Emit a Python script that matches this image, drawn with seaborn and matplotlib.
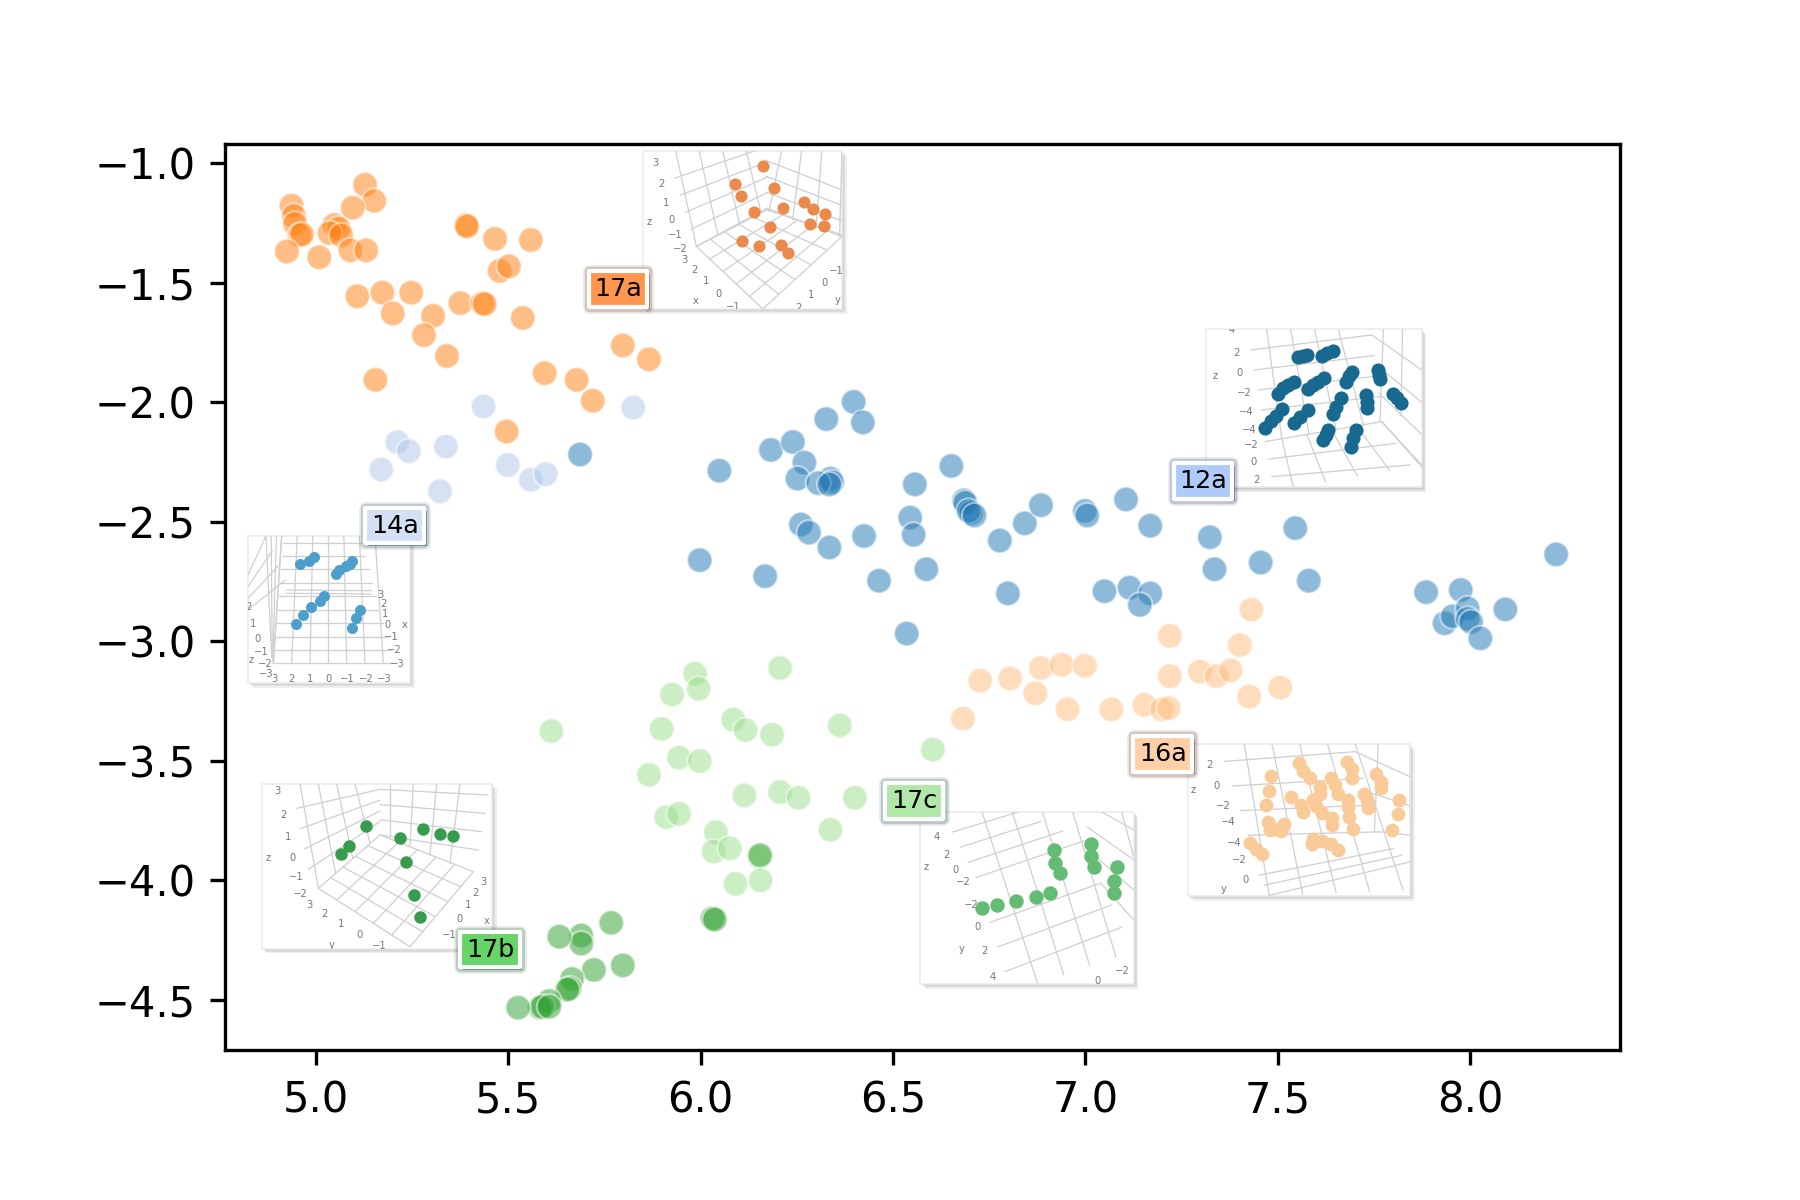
import numpy as np
import pandas as pd
import matplotlib
matplotlib.use('Agg')
import matplotlib.pyplot as plt
import matplotlib.patheffects as pe
from matplotlib.patches import Rectangle
import seaborn as sns

#%% main scatter values
x_17a = [5.128, 5.152, 5.096, 4.937, 4.943, 4.946, 4.958, 4.964, 4.925, 5.009, 5.048, 5.060, 5.036, 5.066, 5.090, 5.131,
         5.391, 5.393, 5.466, 5.559, 5.478, 5.502, 5.108, 5.173, 5.248, 5.200, 5.305, 5.281, 5.341, 5.376, 5.433, 5.439,
         5.538, 5.155, 5.595, 5.678, 5.720, 5.798, 5.866, 5.496]
y_17a = [-1.091, -1.158, -1.187, -1.178, -1.221, -1.254, -1.302, -1.298, -1.370, -1.394, -1.259, -1.274, -1.293, -1.302, -1.365, -1.365,
         -1.259, -1.265, -1.317, -1.322, -1.451, -1.432, -1.557, -1.542, -1.542, -1.629, -1.639, -1.720, -1.807, -1.586, -1.586, -1.590,
         -1.648, -1.907, -1.879, -1.907, -1.994, -1.763, -1.821, -2.123]

x_14a = [5.436, 5.825, 5.212, 5.242, 5.338, 5.170, 5.323, 5.499, 5.559, 5.598]
y_14a = [-2.018, -2.023, -2.167, -2.205, -2.186, -2.282, -2.373, -2.263, -2.325, -2.301]

x_12a = [5.687, 6.049, 6.183, 6.240, 6.270, 6.252, 6.327, 6.398, 6.422, 6.338, 6.342, 6.306, 6.335, 6.261, 6.282, 6.335, 6.425, 6.464,
         5.998, 6.168, 6.557, 6.652, 6.545, 6.554, 6.587, 6.536, 6.685, 6.688, 6.703, 6.697, 6.712, 6.778, 6.843, 6.885, 6.999, 7.005,
         6.799, 7.106, 7.169, 7.050, 7.115, 7.169, 7.142, 7.324, 7.336, 7.456, 7.546, 7.581, 7.886, 7.934, 7.955, 7.976, 7.994, 7.994,
         8.003, 8.027, 8.092, 8.224]
y_12a = [-2.219, -2.287, -2.200, -2.167, -2.253, -2.320, -2.071, -1.999, -2.085, -2.320, -2.335, -2.339, -2.344, -2.512, -2.546, -2.608, -2.560, -2.747,
         -2.661, -2.728, -2.344, -2.267, -2.483, -2.555, -2.699, -2.968, -2.411, -2.421, -2.464, -2.455, -2.474, -2.579, -2.507, -2.431, -2.455, -2.474,
         -2.800, -2.407, -2.517, -2.791, -2.776, -2.800, -2.848, -2.565, -2.699, -2.671, -2.527, -2.747, -2.795, -2.925, -2.896, -2.786, -2.863, -2.906,
         -2.920, -2.988, -2.867, -2.637]

x_16a = [7.432, 7.220, 7.402, 7.220, 7.298, 7.342, 7.378, 7.507, 7.426, 6.727, 6.805, 6.885, 6.939, 6.999, 6.870, 6.954, 7.068, 7.154, 7.199, 7.217, 6.682]
y_16a = [-2.868, -2.978, -3.016, -3.146, -3.127, -3.146, -3.122, -3.194, -3.232, -3.165, -3.156, -3.112, -3.098, -3.103, -3.218, -3.285, -3.285, -3.266, -3.285, -3.280, -3.324]

x_17c = [5.986, 5.995, 5.926, 6.207, 5.899, 6.085, 6.117, 6.186, 6.362, 5.612, 5.944, 5.998, 5.866, 6.604, 6.207, 6.255, 6.114, 6.401, 5.911, 5.944,
         6.338, 6.040, 6.034, 6.076, 6.153, 6.156, 6.091]
y_17c = [-3.136, -3.199, -3.223, -3.112, -3.367, -3.328, -3.372, -3.391, -3.352, -3.376, -3.487, -3.501, -3.559, -3.453, -3.631, -3.655, -3.645, -3.655, -3.736, -3.722,
         -3.789, -3.799, -3.880, -3.866, -3.904, -4.000, -4.015]

x_17b = [6.031, 6.037, 5.768, 5.690, 5.690, 5.633, 5.723, 5.798, 5.666, 5.660, 5.654, 5.607, 5.583, 5.589, 5.526, 5.607, 6.155]
y_17b = [-4.159, -4.164, -4.178, -4.231, -4.265, -4.236, -4.375, -4.356, -4.413, -4.452, -4.457, -4.505, -4.533, -4.529, -4.533, -4.529, -3.895]

x_ticks = [5.0, 5.5, 6.0, 6.5, 7.0, 7.5, 8.0]
y_ticks = [-1.0, -1.5, -2.0, -2.5, -3.0, -3.5, -4.0, -4.5]

series_colors = {'17a': '#ff7f0e', '14a': '#aec7e8', '12a': '#1f77b4',
                 '16a': '#ffbb78', '17c': '#98df8a', '17b': '#2ca02c'}

#%% small 3d views, values are read in each view's own picture units
pts_17a = [(1286, 78), (1217, 133), (1233, 167), (1311, 143), (1263, 216), (1334, 204), (1385, 185), (1406, 207),
           (1435, 221), (1400, 253), (1433, 258), (1303, 261), (1235, 305), (1276, 318), (1330, 316), (1346, 339)]
grid_17a = [((1075, 33), (1245, 33), (1125, 320), (1280, 215), 4), ((1072, 115), (1125, 320), (1295, 20), (1295, 205), 5),
            ((1330, 33), (1476, 33), (1300, 215), (1470, 290), 4), ((1290, 60), (1295, 205), (1476, 150), (1476, 290), 4),
            ((1125, 320), (1295, 210), (1285, 508), (1476, 285), 6), ((1125, 320), (1285, 508), (1295, 210), (1476, 290), 6)]
txt_17a = [(1027, 70, '3'), (1041, 132, '2'), (1052, 188, '1'), (1064, 240, '0'), (1074, 287, '−1'), (1085, 329, '−2'),
           (1010, 246, 'z'), (1096, 361, '3'), (1121, 392, '2'), (1149, 425, '1'), (1179, 462, '0'), (1214, 502, '−1'),
           (1122, 484, 'x'), (1462, 394, '−1'), (1433, 430, '0'), (1402, 467, '1'), (1370, 505, '2'), (1465, 481, 'y')]

pts_12a = [(445, 142), (460, 139), (472, 136), (515, 137), (530, 130), (548, 123), (385, 252), (400, 235), (415, 225), (432, 215),
           (473, 238), (490, 225), (505, 215), (522, 205), (587, 215), (597, 198), (606, 187), (685, 180), (686, 195), (690, 207),
           (345, 355), (362, 332), (378, 318), (395, 297), (432, 338), (450, 322), (475, 300), (548, 312), (557, 290), (572, 265),
           (647, 255), (650, 275), (652, 293), (730, 252), (742, 265), (752, 280), (520, 390), (527, 375), (535, 360),
           (602, 412), (608, 385), (617, 360)]
grid_12a = [((350, 58), (565, 58), (395, 385), (640, 345), 4), ((302, 120), (335, 300), (665, 75), (690, 260), 4),
            ((345, 395), (365, 500), (695, 335), (780, 465), 3), ((395, 385), (695, 335), (430, 532), (815, 465), 5),
            ((665, 75), (695, 335), (815, 180), (815, 470), 4), ((700, 58), (815, 58), (690, 335), (815, 300), 3)]
txt_12a = [(245, 60, '4'), (258, 128, '2'), (195, 197, 'z'), (268, 190, '0'), (282, 250, '−2'), (290, 305, '−4'),
           (298, 360, '−4'), (305, 405, '−2'), (310, 455, '0'), (318, 510, '2')]

pts_14a = [(211, 193), (236, 183), (253, 172), (318, 222), (327, 210), (347, 199), (360, 193), (366, 184), (199, 371), (218, 345),
           (244, 321), (270, 302), (283, 288), (391, 329), (377, 353), (365, 385)]
grid_14a = [((155, 108), (435, 108), (130, 490), (460, 490), 7), ((160, 128), (130, 490), (395, 128), (490, 490), 10),
            ((54, 225), (54, 330), (108, 108), (165, 240), 4), ((108, 108), (155, 108), (125, 470), (130, 490), 4),
            ((170, 270), (170, 280), (425, 272), (425, 282), 2)]
txt_14a = [(452, 286, '3'), (459, 313, '2'), (466, 342, '1'), (473, 374, '0'), (524, 374, 'x'), (483, 410, '−1'), (493, 449, '−2'),
           (503, 493, '−3'), (108, 522, '−3'), (132, 536, '3'), (185, 536, '2'), (241, 536, '1'), (297, 536, '0'), (352, 536, '−1'),
           (408, 536, '−2'), (463, 536, '−3'), (56, 320, '2'), (70, 371, '1'), (83, 417, '0'), (94, 457, '−1'), (64, 479, 'z'), (105, 493, '−2')]

pts_17b = [(408, 977), (357, 1038), (333, 1061), (510, 1013), (578, 988), (630, 1003), (670, 1007), (529, 1085), (553, 1186), (571, 1250)]
grid_17b = [((210, 852), (375, 852), (265, 1165), (420, 1030), 4), ((200, 925), (235, 1108), (450, 868), (450, 965), 4),
            ((480, 852), (690, 852), (480, 1010), (660, 1090), 4), ((450, 868), (450, 1005), (775, 885), (745, 1050), 4),
            ((265, 1165), (450, 1005), (540, 1340), (730, 1115), 6), ((265, 1165), (540, 1340), (450, 1005), (730, 1115), 6)]
txt_17b = [(143, 872, '3'), (159, 945, '2'), (173, 1012, '1'), (114, 1074, 'z'), (187, 1073, '0'), (200, 1130, '−1'), (211, 1182, '−2'),
           (237, 1214, '3'), (284, 1242, '2'), (334, 1272, '1'), (389, 1304, '0'), (305, 1335, 'y'), (447, 1338, '−1'), (759, 1146, '3'),
           (737, 1180, '2'), (714, 1216, '1'), (688, 1258, '0'), (770, 1264, 'x'), (658, 1305, '−1')]

pts_17c = [(344, 563), (383, 556), (434, 542), (487, 532), (523, 520), (534, 392), (536, 430), (549, 460), (630, 373), (630, 408),
           (637, 442), (697, 442), (690, 484), (691, 519)]
grid_17c = [((268, 337), (330, 473), (440, 277), (615, 362), 4), ((367, 607), (405, 755), (655, 490), (710, 622), 3),
            ((345, 277), (582, 277), (490, 790), (695, 712), 4), ((620, 322), (655, 490), (741, 420), (741, 600), 3),
            ((658, 277), (710, 277), (741, 330), (741, 410), 2)]
txt_17c = [(227, 352, '4'), (253, 405, '2'), (199, 442, 'z'), (275, 450, '0'), (295, 488, '−2'), (318, 555, '−2'), (334, 622, '0'),
           (291, 688, 'y'), (352, 693, '2'), (372, 770, '4'), (646, 782, '0'), (711, 752, '−2')]

pts_16a = [(1099, 169), (1095, 212), (1088, 255), (1152, 232), (1172, 128), (1183, 152), (1203, 173), (1298, 125), (1312, 147), (1311, 175),
           (1374, 163), (1388, 185), (1388, 205), (1256, 175), (1268, 195), (1276, 222), (1227, 200), (1227, 222), (1302, 240), (1302, 262),
           (1303, 290), (1314, 325), (1342, 222), (1350, 240), (1352, 265), (1434, 240), (1431, 282), (1415, 328), (1210, 240), (1218, 258),
           (1232, 278), (1260, 295), (1260, 315), (1178, 255), (1184, 275), (1092, 305), (1097, 330), (1115, 325), (1125, 333), (1133, 310),
           (1045, 367), (1060, 385), (1076, 402), (1210, 355), (1207, 372), (1232, 362), (1257, 370), (1276, 390)]
grid_16a = [((1030, 72), (1320, 72), (1095, 525), (1445, 510), 5), ((978, 124), (1040, 345), (1320, 95), (1385, 335), 4),
            ((1068, 465), (1095, 525), (1420, 385), (1463, 425), 3), ((1320, 95), (1385, 335), (1463, 170), (1463, 345), 3),
            ((1380, 72), (1463, 72), (1370, 335), (1463, 290), 2)]
txt_16a = [(940, 134, '2'), (896, 210, 'z'), (958, 198, '0'), (974, 257, '−2'), (987, 306, '−4'), (1004, 367, '−4'), (1018, 420, '−2'),
           (976, 506, 'y'), (1032, 480, '0')]

# name: picture px box of the view, limits in own units, dot size, dot colour, points, grid, texts
views = [
    ('17a', (642.5, 151, 842, 309), (995, 1476, 508, 33), 8.5, '#ec8a4c', pts_17a, grid_17a, txt_17a),
    ('12a', (1205.7, 329.3, 1421.7, 487.3), (167, 815, 532, 58), 11.5, '#17698f', pts_12a, grid_12a, txt_12a),
    ('14a', (248, 536, 410, 683), (54, 540, 549, 108), 7, '#4c9fca', pts_14a, grid_14a, txt_14a),
    ('17b', (261.7, 784, 492, 948.7), (95, 786, 1346, 852), 9, '#379c4e', pts_17b, grid_17b, txt_17b),
    ('17c', (920.4, 812, 1133.6, 984), (184, 741, 792, 277), 12, '#62bc73', pts_17c, grid_17c, txt_17c),
    ('16a', (1188, 744, 1410, 896), (883, 1463, 527, 72), 11, '#f9cb98', pts_16a, grid_16a, txt_16a),
]

tags = [('17a', 618, 289, '#ff9650', '#5a2a10'), ('12a', 1203, 481, '#aecbfa', '#1f3560'), ('14a', 394.7, 525.7, '#d4e0f3', '#1f4550'),
        ('17b', 490, 949.7, '#66d466', '#0f4a20'), ('17c', 914, 801, '#b0e8aa', '#0f4040'), ('16a', 1162.7, 754, '#ffcfa8', '#5a3020')]

W, H = 1800, 1200


def caja_fig(x0, y0, x1, y1):
    return [x0 / W, 1 - y1 / H, (x1 - x0) / W, (y1 - y0) / H]


def dibujar_vista(fig, box, lims, s, color, pts, grid, txt):
    x0, y0, x1, y1 = box
    rect = Rectangle((x0 / W, 1 - y1 / H), (x1 - x0) / W, (y1 - y0) / H, transform=fig.transFigure,
                     facecolor='white', edgecolor='#ececec', linewidth=0.4, zorder=1.5)
    rect.set_path_effects([pe.SimplePatchShadow(offset=(o, -o), shadow_rgbFace='#777777', alpha=0.12) for o in (1.1, 0.8, 0.5, 0.3)]
                          + [pe.Normal()])
    fig.add_artist(rect)

    ax_v = fig.add_axes(caja_fig(*box), zorder=2)
    for a0, a1, b0, b1, n in grid:
        for t in np.linspace(0, 1, n):
            ax_v.plot([a0[0] + (a1[0] - a0[0]) * t, b0[0] + (b1[0] - b0[0]) * t],
                      [a0[1] + (a1[1] - a0[1]) * t, b0[1] + (b1[1] - b0[1]) * t],
                      color='#cfcfcf', lw=0.3, zorder=1)
    px, py = zip(*pts)
    sns.scatterplot(x=list(px), y=list(py), s=s, color=color, linewidth=0, ax=ax_v, zorder=3, legend=False)
    ax_v.set_xlim(lims[0], lims[1])
    ax_v.set_ylim(lims[2], lims[3])
    ax_v.axis('off')
    for tx, ty, label in txt:
        ax_v.text(tx, ty, label, fontsize=2.4, color='#777777', ha='center', va='center', zorder=2, clip_on=True)


#%%
df = pd.concat([
    pd.DataFrame({'x': x_17a, 'y': y_17a, 'grupo': '17a'}),
    pd.DataFrame({'x': x_14a, 'y': y_14a, 'grupo': '14a'}),
    pd.DataFrame({'x': x_12a, 'y': y_12a, 'grupo': '12a'}),
    pd.DataFrame({'x': x_16a, 'y': y_16a, 'grupo': '16a'}),
    pd.DataFrame({'x': x_17c, 'y': y_17c, 'grupo': '17c'}),
    pd.DataFrame({'x': x_17b, 'y': y_17b, 'grupo': '17b'}),
], ignore_index=True)

sns.set_style('ticks', {'font.family': ['DejaVu Sans']})
fig = plt.figure(figsize=(6, 4), dpi=300)
ax = fig.add_axes(caja_fig(225, 143.7, 1620, 1050), zorder=0)
sns.scatterplot(data=df, x='x', y='y', hue='grupo', palette=series_colors, s=36, alpha=0.5,
                edgecolor='white', linewidth=0.5, legend=False, ax=ax)
ax.set_xlim(4.764, 8.390)
ax.set_ylim(-4.710, -0.919)
ax.set_xticks(x_ticks)
ax.set_yticks(y_ticks)
ax.set_xlabel('')
ax.set_ylabel('')
ax.tick_params(labelsize=10, width=0.8, length=3.5, color='black', labelcolor='black')
for sp in ax.spines.values():
    sp.set_visible(True)
    sp.set_linewidth(0.8)
    sp.set_color('black')

for name, box, lims, s, color, pts, grid, txt in views:
    dibujar_vista(fig, box, lims, s, color, pts, grid, txt)

for label, cx, cy, color, tint in tags:
    t = fig.text(cx / W, 1 - cy / H, label, fontsize=6.1, color='black', ha='center', va='center', zorder=3,
                 bbox=dict(boxstyle='square,pad=0.22', facecolor=color, edgecolor='white', linewidth=1.0, joinstyle='round'))
    t.get_bbox_patch().set_path_effects([
        pe.Stroke(linewidth=3.0, foreground=tint, alpha=0.12),
        pe.Stroke(linewidth=2.2, foreground=tint, alpha=0.18),
        pe.SimplePatchShadow(offset=(0.6, -0.6), shadow_rgbFace=tint, alpha=0.45),
        pe.Normal(),
    ])

fig.savefig('out.png', dpi=300)
